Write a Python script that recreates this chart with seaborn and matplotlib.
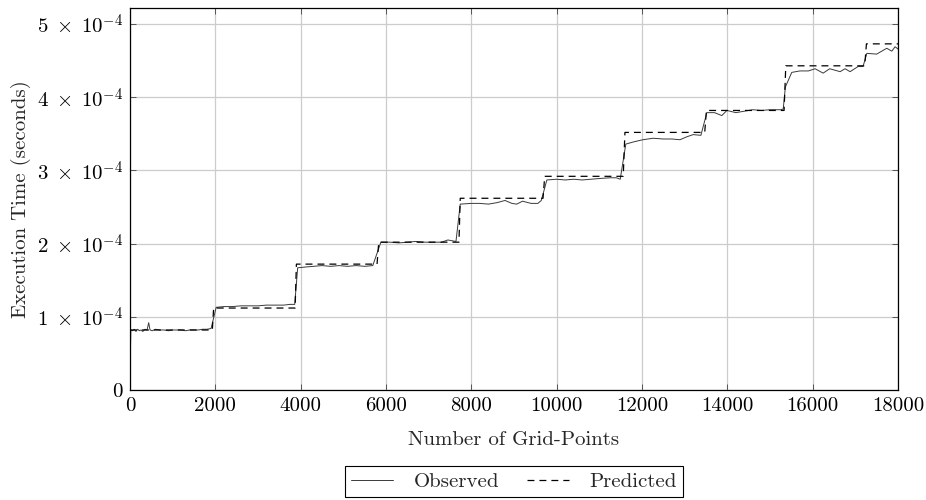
import numpy as np
import pandas as pd
import matplotlib
matplotlib.use("Agg")
import matplotlib.pyplot as plt
import seaborn as sns
from matplotlib.ticker import FixedLocator, FuncFormatter

# ---- data (execution time in units of 1e-4 s) ----
obs_x = [0, 20, 60, 100, 140, 180, 220, 260, 300, 350, 400, 438, 470, 520, 600, 700, 800, 900,
         1000, 1100, 1200, 1300, 1400, 1500, 1600, 1700, 1800, 1900,
         2020, 2200, 2400, 2600, 2800, 3000, 3200, 3400, 3600, 3750, 3860,
         3930, 4100, 4300, 4500, 4700, 4900, 5100, 5300, 5500, 5690,
         5880, 6100, 6300, 6500, 6700, 6900, 7100, 7300, 7450, 7640,
         7740, 8000, 8200, 8400, 8600, 8790, 8950, 9064, 9200, 9400, 9560, 9640,
         9770, 10000, 10200, 10400, 10600, 10800, 11000, 11250, 11400, 11490,
         11620, 11800, 12020, 12260, 12500, 12700, 12890, 13050, 13200, 13380,
         13520, 13700, 13870, 13990, 14200, 14400, 14600, 14800, 15000, 15250, 15310,
         15360, 15510, 15700, 15900, 16056, 16245, 16400, 16643, 16760, 16877, 17064, 17180,
         17270, 17500, 17737, 17854, 17932, 18000]
obs_y = [0.27, 0.82, 0.81, 0.83, 0.80, 0.83, 0.81, 0.82, 0.80, 0.83, 0.82, 0.92, 0.82, 0.81, 0.83, 0.82, 0.82, 0.81,
         0.82, 0.82, 0.82, 0.81, 0.82, 0.82, 0.82, 0.83, 0.83, 0.84,
         1.13, 1.14, 1.14, 1.15, 1.15, 1.15, 1.16, 1.16, 1.16, 1.17, 1.17,
         1.67, 1.68, 1.69, 1.70, 1.69, 1.70, 1.69, 1.70, 1.69, 1.70,
         2.02, 2.02, 2.01, 2.02, 2.03, 2.02, 2.02, 2.02, 2.05, 2.03,
         2.54, 2.55, 2.55, 2.54, 2.56, 2.59, 2.55, 2.54, 2.58, 2.55, 2.55, 2.59,
         2.87, 2.88, 2.87, 2.88, 2.87, 2.88, 2.89, 2.90, 2.90, 2.88,
         3.36, 3.39, 3.42, 3.44, 3.43, 3.43, 3.42, 3.46, 3.49, 3.48,
         3.79, 3.79, 3.75, 3.82, 3.79, 3.81, 3.83, 3.82, 3.83, 3.83, 3.84,
         4.14, 4.34, 4.36, 4.36, 4.39, 4.33, 4.39, 4.35, 4.39, 4.35, 4.42, 4.42,
         4.60, 4.59, 4.67, 4.63, 4.69, 4.66]

pred_x = [0, 1930, 1960, 3870, 3900, 5790, 5830, 7710, 7740, 9680, 9720,
          11560, 11600, 13470, 13510, 15330, 15370, 17220, 17260, 18000]
pred_y = [0.82, 0.82, 1.12, 1.12, 1.72, 1.72, 2.02, 2.02, 2.62, 2.62, 2.92,
          2.92, 3.52, 3.52, 3.82, 3.82, 4.43, 4.43, 4.73, 4.73]

x_ticks = [0, 2000, 4000, 6000, 8000, 10000, 12000, 14000, 16000, 18000]
y_ticks = [0, 1, 2, 3, 4, 5]
scale = 1e-4

obs_df = pd.DataFrame({"x": obs_x, "y": np.array(obs_y) * scale})
pred_df = pd.DataFrame({"x": pred_x, "y": np.array(pred_y) * scale})

# ---- style ----
sns.set_theme(style="whitegrid")
plt.rcParams["font.family"] = ["cmr10", "DejaVu Serif"]
plt.rcParams["mathtext.fontset"] = "cm"
plt.rcParams["axes.unicode_minus"] = False
plt.rcParams["axes.formatter.use_mathtext"] = True
plt.rcParams["lines.scale_dashes"] = False

FS = 15

fig = plt.figure(figsize=(9.26, 5.0), dpi=100)
ax = fig.add_axes([130 / 926, 1 - 390 / 500, 768 / 926, 382 / 500])

sns.lineplot(data=obs_df, x="x", y="y", ax=ax, color="#3a3a3a", linewidth=0.7,
             estimator=None, sort=False, label="Observed")
sns.lineplot(data=pred_df, x="x", y="y", ax=ax, color="black", linewidth=0.9,
             estimator=None, sort=False, label="Predicted")
ax.lines[1].set_linestyle((0, (5.0, 3.6)))

ax.set_xlim(0, 18000)
ax.set_ylim(0, 5.22e-4)
ax.xaxis.set_major_locator(FixedLocator(x_ticks))
ax.yaxis.set_major_locator(FixedLocator([t * scale for t in y_ticks]))
ax.xaxis.set_major_formatter(FuncFormatter(lambda v, p: f"{int(round(v))}"))

def yfmt(v, p):
    k = int(round(v / scale))
    return "0" if k == 0 else r"$%d\;\times\;10^{-4}\;\;$" % k

ax.yaxis.set_major_formatter(FuncFormatter(yfmt))

ax.grid(True, color="#cccccc", linewidth=0.9)
for s in ax.spines.values():
    s.set_color("black")
    s.set_linewidth(0.9)
ax.tick_params(direction="in", length=4, width=0.7, color="#555555",
               top=True, right=True, bottom=True, left=True,
               labelsize=FS, pad=5, labelcolor="black")

ax.set_xlabel("Number of Grid-Points", fontsize=FS, labelpad=12)
ax.set_ylabel("Execution Time (seconds)", fontsize=FS, labelpad=4)

leg = ax.legend(loc="upper center", bbox_to_anchor=(0.5, -0.199), ncol=2,
                frameon=True, fancybox=False, fontsize=FS, handlelength=2.0,
                columnspacing=1.35, borderpad=0.3, handletextpad=1.0,
                borderaxespad=0)
leg.get_frame().set_edgecolor("black")
leg.get_frame().set_linewidth(0.8)
leg.get_frame().set_alpha(1)

fig.savefig("out.png", dpi=100)
